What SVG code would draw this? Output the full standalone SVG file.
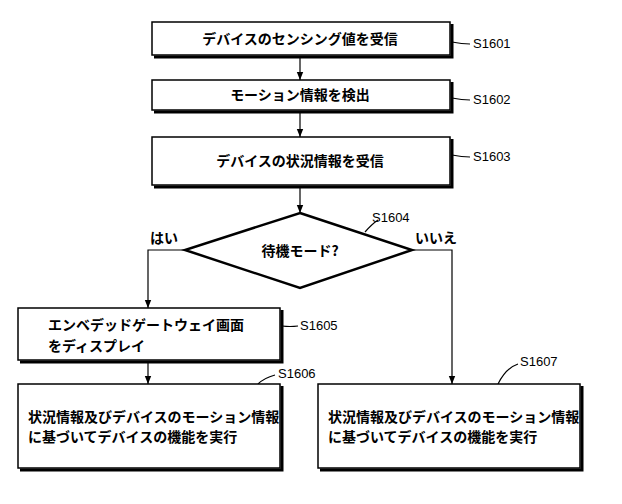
<svg xmlns="http://www.w3.org/2000/svg" width="622" height="504" viewBox="0 0 622 504">
<style>
.b{fill:#fff;stroke:#000;stroke-width:1.5}
.s{fill:none;stroke:#000;stroke-width:3}
.t{font-family:"Noto Sans CJK JP",sans-serif;font-size:14px;font-weight:bold;text-anchor:middle}
.ts{font-family:"Noto Sans CJK JP",sans-serif;font-size:14px;font-weight:bold}
.l{font-family:"Liberation Sans",sans-serif;font-size:13px}
.c{fill:none;stroke:#000;stroke-width:1.2}
</style>
<defs><marker id="a" viewBox="0 0 10 10" refX="10" refY="5" markerWidth="7" markerHeight="7" orient="auto"><path d="M0,1L10,5L0,9z"/></marker></defs>
<g id="connectors" class="c">
<line x1="300" y1="57" x2="300" y2="80" marker-end="url(#a)"/>
<line x1="300" y1="112" x2="300" y2="137" marker-end="url(#a)"/>
<line x1="300" y1="187" x2="300" y2="213" marker-end="url(#a)"/>
<polyline points="185,250 148,250 148,308" marker-end="url(#a)"/>
<polyline points="412,250 452,250 452,384" marker-end="url(#a)"/>
<line x1="148" y1="362" x2="148" y2="384" marker-end="url(#a)"/>
<path d="M452,42 Q462,44 470,44"/>
<path d="M452,98 Q462,100 470,100"/>
<path d="M452,155 Q462,157 470,157"/>
<path d="M365,232 Q372,224 378,220"/>
<path d="M282,326 Q290,327 298,326"/>
<path d="M258,384 Q264,378 275,375"/>
<path d="M498,384 Q506,368 518,364"/>
</g>
<g id="S1601"><polyline class="s" points="154,57 452,57 452,24"/><rect class="b" x="152" y="22" width="298" height="33"/><text class="t" x="300" y="44">デバイスのセンシング値を受信</text><text class="l" x="473" y="48">S1601</text></g>
<g id="S1602"><polyline class="s" points="154,112 452,112 452,82"/><rect class="b" x="152" y="80" width="298" height="30"/><text class="t" x="300" y="100">モーション情報を検出</text><text class="l" x="473" y="104">S1602</text></g>
<g id="S1603"><polyline class="s" points="154,187 452,187 452,139"/><rect class="b" x="152" y="137" width="298" height="48"/><text class="t" x="300" y="166">デバイスの状況情報を受信</text><text class="l" x="473" y="161">S1603</text></g>
<g id="S1604"><polygon class="b" points="300,213 412,250 300,288 185,250" style="stroke-width:2.5"/><text class="t" x="300" y="256">待機モード?</text><text class="l" x="372" y="222">S1604</text><text class="t" x="164" y="243">はい</text><text class="t" x="436" y="243">いいえ</text></g>
<g id="S1605"><polyline class="s" points="20,362 282,362 282,310"/><rect class="b" x="18" y="308" width="262" height="52"/><text class="ts" x="48" y="330">エンベデッドゲートウェイ画面</text><text class="ts" x="48" y="351">をディスプレイ</text><text class="l" x="300" y="330">S1605</text></g>
<g id="S1606"><polyline class="s" points="20,470 282,470 282,386"/><rect class="b" x="18" y="384" width="262" height="84"/><text class="ts" x="28" y="422">状況情報及びデバイスのモーション情報</text><text class="ts" x="28" y="442">に基づいてデバイスの機能を実行</text><text class="l" x="278" y="378">S1606</text></g>
<g id="S1607"><polyline class="s" points="320,470 582,470 582,386"/><rect class="b" x="318" y="384" width="262" height="84"/><text class="ts" x="328" y="422">状況情報及びデバイスのモーション情報</text><text class="ts" x="328" y="442">に基づいてデバイスの機能を実行</text><text class="l" x="520" y="366">S1607</text></g>
</svg>
